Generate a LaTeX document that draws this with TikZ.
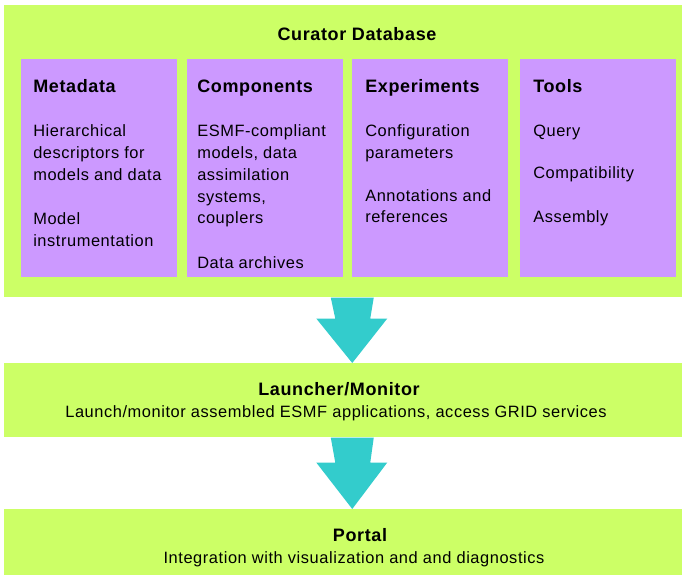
\documentclass[tikz,border=0pt]{standalone}
\usepackage{fontspec}
\setmainfont[LetterSpace=3.5]{Liberation Sans}
\usetikzlibrary{calc}
\definecolor{lime}{HTML}{CCFF66}
\definecolor{lilac}{HTML}{CC99FF}
\definecolor{teal2}{HTML}{33CCCC}
\tikzset{
  greenbox/.style={fill=lime, draw=none, inner sep=0, anchor=north west, minimum width=508.5pt},
  purplebox/.style={fill=lilac, draw=none, inner sep=0, anchor=north west, minimum width=117pt, minimum height=163.5pt},
  txt/.style={inner sep=0, anchor=base west, font=\fontsize{12.3}{14}\selectfont},
  ttl/.style={inner sep=0, anchor=base west, font=\fontsize{13.5}{16}\selectfont\bfseries},
  ctxt/.style={inner sep=0, anchor=base, font=\fontsize{12.3}{14}\selectfont},
  cttl/.style={inner sep=0, anchor=base, font=\fontsize{13.5}{16}\selectfont\bfseries},
  bigarrow/.style={fill=teal2, draw=none}
}
\begin{document}
\begin{tikzpicture}[x=0.75pt,y=-0.75pt]
\useasboundingbox[fill=white] (0,0) rectangle (682,575);
% boxes
\node[greenbox, minimum height=219pt] (db) at (4,5) {};
\node[greenbox, minimum height=55.5pt] (lm) at (4,363) {};
\node[greenbox, minimum height=49.5pt] (pt) at (4,509) {};
\node[purplebox] (meta) at (21,59) {};
\node[purplebox] (comp) at (187,59) {};
\node[purplebox] (expt) at (352,59) {};
\node[purplebox] (tool) at (520,59) {};
% arrows
\path (db.south) ++(9,0) coordinate (a1);
\path (lm.south) ++(9,0) coordinate (a2);
\fill[bigarrow] ($(a1)+(-21.5,0)$) -- ($(a1)+(21.5,0)$) -- ($(a1)+(18,21)$) -- ($(a1)+(35,21)$)
  -- (a1 |- lm.north) -- ($(a1)+(-36,21)$) -- ($(a1)+(-17,21)$) -- cycle;
\fill[bigarrow] ($(a2)+(-21.5,0)$) -- ($(a2)+(21.5,0)$) -- ($(a2)+(18,25)$) -- ($(a2)+(35,25)$)
  -- (a2 |- pt.north) -- ($(a2)+(-36,25)$) -- ($(a2)+(-17,25)$) -- cycle;
% titles
\node[cttl] (dbt) at (357,40) {Curator Database};
\node[ttl] (metat) at (33,92) {Metadata};
\node[ttl] (compt) at (197,92) {Components};
\node[ttl] (exptt) at (365,92) {Experiments};
\node[ttl] (toolt) at (533,92) {Tools};
% metadata
\node[txt] (m1) at (33,136) {Hierarchical};
\node[txt] (m2) at (33,158) {descriptors for};
\node[txt] (m3) at (33,180) {models and data};
\node[txt] (m4) at (33,224) {Model};
\node[txt] (m5) at (33,246) {instrumentation};
% components
\node[txt] (c1) at (197,136) {ESMF-compliant};
\node[txt] (c2) at (197,158) {models, data};
\node[txt] (c3) at (197,180) {assimilation};
\node[txt] (c4) at (197,202) {systems,};
\node[txt] (c5) at (197,223) {couplers};
\node[txt] (c6) at (197,268) {Data archives};
% experiments
\node[txt] (e1) at (365,136) {Configuration};
\node[txt] (e2) at (365,158) {parameters};
\node[txt] (e3) at (365,201) {Annotations and};
\node[txt] (e4) at (365,222) {references};
% tools
\node[txt] (t1) at (533,136) {Query};
\node[txt] (t2) at (533,178) {Compatibility};
\node[txt] (t3) at (533,222) {Assembly};
% launcher
\node[cttl] (lmt) at (339,395) {Launcher/Monitor};
\node[ctxt] (lms) at (336,417) {Launch/monitor assembled ESMF applications, access GRID services};
% portal
\node[cttl] (ptt) at (360,541) {Portal};
\node[ctxt] (pts) at (354,563) {Integration with visualization and and diagnostics};
\end{tikzpicture}
\end{document}
